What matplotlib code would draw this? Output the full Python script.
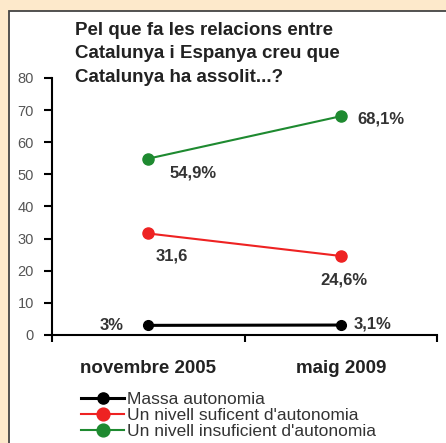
import matplotlib.pyplot as plt
from matplotlib.patches import Rectangle

categories = ['novembre 2005', 'maig 2009']
massa = [3.0, 3.1]
suficient = [31.6, 24.6]
insuficient = [54.9, 68.1]
massa_labels = ['3%', '3,1%']
suficient_labels = ['31,6', '24,6%']
insuficient_labels = ['54,9%', '68,1%']
y_ticks = [0, 10, 20, 30, 40, 50, 60, 70, 80]

fig = plt.figure(figsize=(4.46, 4.43), dpi=100)
fig.patch.set_facecolor('#fde9cb')

# fons: panell blanc amb vora fosca
bg = fig.add_axes([0, 0, 1, 1], zorder=-1)
bg.set_xlim(0, 446)
bg.set_ylim(443, 0)
bg.axis('off')
bg.add_patch(Rectangle((9, 11), 460, 440, facecolor='white', edgecolor='#444444', linewidth=1.3))

ax = fig.add_axes([52 / 446, 1 - 335 / 443, (437 - 52) / 446, (335 - 78) / 443])
ax.set_facecolor('none')

x = [0.5, 1.5]
ax.plot(x, massa, '-o', color='black', lw=2.2, ms=7, label='Massa autonomia', clip_on=False)
ax.plot(x, suficient, '-o', color='#ee2222', lw=1.5, ms=8, label="Un nivell suficent d'autonomia")
ax.plot(x, insuficient, '-o', color='#1e8a30', lw=1.5, ms=8, label="Un nivell insuficient d'autonomia")

lab = dict(fontsize=12, fontweight='bold', color='#333333', family='Liberation Sans')
ax.annotate(massa_labels[0], (x[0], massa[0]), xytext=(-18, 0), textcoords='offset points', ha='right', va='center', **lab)
ax.annotate(massa_labels[1], (x[1], massa[1]), xytext=(9, 1), textcoords='offset points', ha='left', va='center', **lab)
ax.annotate(suficient_labels[0], (x[0], suficient[0]), xytext=(5, -16), textcoords='offset points', ha='left', va='center', **lab)
ax.annotate(suficient_labels[1], (x[1], suficient[1]), xytext=(-15, -17), textcoords='offset points', ha='left', va='center', **lab)
ax.annotate(insuficient_labels[0], (x[0], insuficient[0]), xytext=(15, -10), textcoords='offset points', ha='left', va='center', **lab)
ax.annotate(insuficient_labels[1], (x[1], insuficient[1]), xytext=(12, -2), textcoords='offset points', ha='left', va='center', **lab)

ax.set_xlim(0, 2)
ax.set_ylim(0, 80)
ax.set_yticks(y_ticks)
ax.set_xticks([0, 1, 2])
ax.set_xticklabels([])
ax.spines['top'].set_visible(False)
ax.spines['right'].set_visible(False)
ax.spines['left'].set_linewidth(1.5)
ax.spines['bottom'].set_linewidth(1.5)
ax.tick_params(axis='y', length=6, width=1.5, labelsize=10.5, labelcolor='#555555', pad=7)
ax.tick_params(axis='x', length=5, width=1.5)
for lbl in ax.get_yticklabels():
    lbl.set_family('Liberation Sans')

for xi, c in zip(x, categories):
    ax.text(xi, -10.3, c, ha='center', va='center', fontsize=13.5, fontweight='bold',
            color='#222222', family='Liberation Sans')

fig.text(75 / 446, 1 - 54 / 443,
         "Pel que fa les relacions entre\nCatalunya i Espanya creu que\nCatalunya ha assolit...?",
         ha='left', va='center', fontsize=13.5, fontweight='bold', color='#222222',
         family='Liberation Sans', linespacing=1.5)

leg = fig.legend(loc='upper left', bbox_to_anchor=(81 / 446, 1 - 392 / 443),
                 frameon=False, handlelength=2.5, handletextpad=0.15,
                 labelspacing=0.05, borderpad=0, borderaxespad=0, markerscale=1.15,
                 prop={'family': 'Liberation Sans', 'size': 12.5})
for t in leg.get_texts():
    t.set_color('#333333')

fig.savefig('out.png', dpi=100, facecolor=fig.get_facecolor())
